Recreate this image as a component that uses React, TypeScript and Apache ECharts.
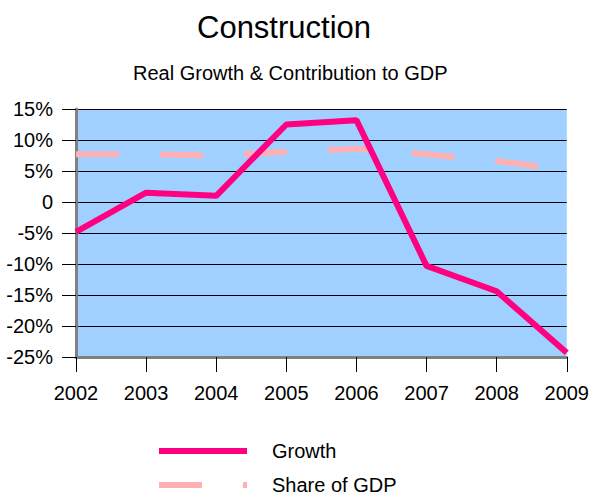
import React, { useEffect, useRef } from "react";
import * as echarts from "echarts";

const years = ["2002", "2003", "2004", "2005", "2006", "2007", "2008", "2009"];
const growth = [-4.8, 1.5, 1.0, 12.5, 13.2, -10.3, -14.4, -24.3];
const shareOfGDP = [7.7, 7.7, 7.5, 8.1, 8.6, 7.7, 6.6, 5.2];
const titleText = "Construction";
const subtitleText = "Real Growth & Contribution to GDP";

const FONT = "'Liberation Sans', Arial, sans-serif";

export default function App() {
  const ref = useRef<HTMLDivElement>(null);
  useEffect(() => {
    if (!ref.current) return;
    const chart = echarts.init(ref.current, undefined, { renderer: "svg" });
    const legendCommon = {
      orient: "vertical",
      left: 156,
      padding: 0,
      itemWidth: 88,
      itemHeight: 2,
      itemStyle: { opacity: 0 },
      lineStyle: { width: "inherit" },
      textStyle: { fontSize: 20, color: "#000", fontFamily: FONT, padding: [0, 0, 0, 20] },
    };
    chart.setOption({
      animation: false,
      backgroundColor: "#ffffff",
      textStyle: { fontFamily: FONT },
      title: [
        {
          text: titleText,
          left: 197,
          top: 12,
          padding: 0,
          textStyle: { fontSize: 31, fontWeight: "normal", color: "#000", fontFamily: FONT },
        },
        {
          text: subtitleText,
          left: 133,
          top: 63,
          padding: 0,
          textStyle: { fontSize: 20, fontWeight: "normal", color: "#000", fontFamily: FONT },
        },
      ],
      legend: [
        { ...legendCommon, data: ["Growth"], top: 441 },
        { ...legendCommon, data: ["Share of GDP"], top: 475 },
      ],
      grid: {
        left: 76,
        right: 24,
        top: 109,
        bottom: 138,
        show: true,
        backgroundColor: "#a0d0ff",
        borderWidth: 0,
      },
      xAxis: {
        type: "category",
        data: years,
        boundaryGap: false,
        axisLine: { onZero: false, lineStyle: { color: "#808080", width: 3 } },
        axisTick: { show: true, length: 15, lineStyle: { color: "#000", width: 1 } },
        axisLabel: { fontSize: 20, color: "#000", margin: 26, fontFamily: FONT },
        splitLine: { show: false },
      },
      yAxis: {
        type: "value",
        min: -25,
        max: 15,
        interval: 5,
        axisLine: { show: true, lineStyle: { color: "#808080", width: 3 } },
        axisTick: { show: true, length: 14, lineStyle: { color: "#000", width: 1 } },
        axisLabel: {
          fontSize: 20,
          color: "#000",
          margin: 23,
          fontFamily: FONT,
          formatter: (v: number) => (v === 0 ? "0" : v + "%"),
        },
        splitLine: { show: true, lineStyle: { color: "#000", width: 1 } },
      },
      series: [
        {
          name: "Growth",
          type: "line",
          data: growth,
          symbol: "none",
          z: 3,
          lineStyle: { color: "#ff0080", width: 6 },
          itemStyle: { color: "#ff0080" },
        },
        {
          name: "Share of GDP",
          type: "line",
          data: shareOfGDP,
          symbol: "none",
          z: 2,
          lineStyle: { color: "#ffb0b4", width: 6, type: [43, 41] },
          itemStyle: { color: "#ffb0b4" },
        },
      ],
    });
    return () => chart.dispose();
  }, []);
  return (
    <div
      ref={ref}
      style={{ position: "absolute", left: 0, top: 0, width: 592, height: 495 }}
    />
  );
}
